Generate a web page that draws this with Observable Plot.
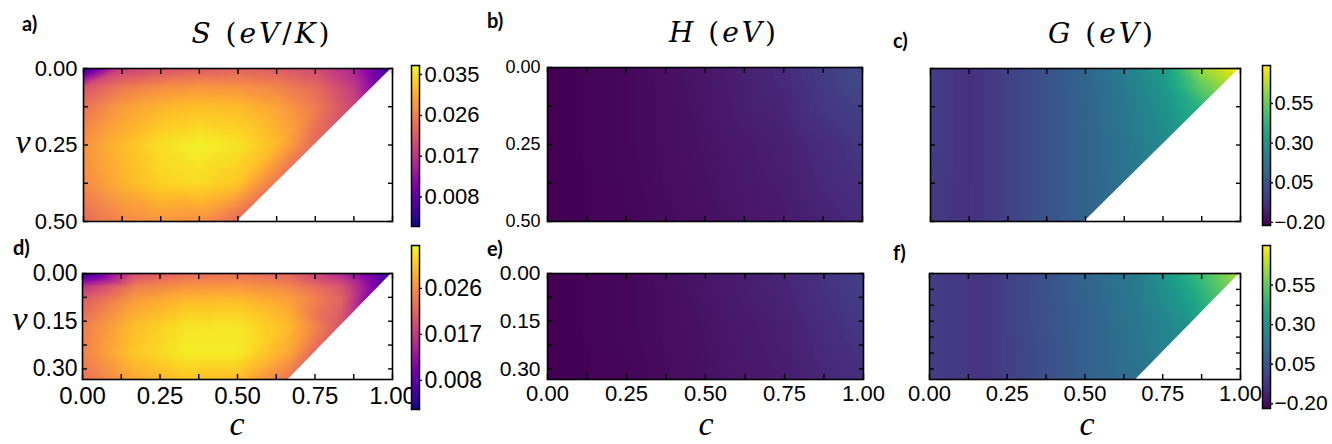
<!DOCTYPE html>
<html><head><meta charset="utf-8">
<script src="https://cdn.jsdelivr.net/npm/d3@7"></script>
<script src="https://cdn.jsdelivr.net/npm/@observablehq/plot@0.6"></script>
<style>
html,body{margin:0;padding:0;background:#fff;}
#root{position:relative;width:1332px;height:444px;overflow:hidden;background:#fff;}
</style></head><body><div id="root"></div>
<script>
// ---------- grids (sample positions) ----------
const cTop = [0, 0.125, 0.25, 0.375, 0.5, 0.625, 0.75, 0.875, 1];
const vTopS = [0, 0.0625, 0.125, 0.25, 0.375, 0.5];
const vTopG = [0, 0.0625, 0.125, 0.25, 0.375, 0.5];
const cBot = [0, 1/6, 1/3, 1/2, 2/3, 5/6, 1];
const vBotS = [0, 1/24, 1/12, 1/6, 1/4, 1/3];
const vBotG = [0, 1/12, 1/6, 1/4, 1/3];
const cH = [0, 0.25, 0.5, 0.75, 1];
const vHTop = [0, 0.25, 0.5];
const vHBot = [0, 1/6, 1/3];

// ---------- values (null = outside c+v<=1) ----------
const S_top = [
  [0.0033, 0.0185, 0.0205, 0.0221, 0.0228, 0.0221, 0.0200, 0.0150, 0.0033],
  [0.0210, 0.0252, 0.0274, 0.0283, 0.0280, 0.0266, 0.0237, 0.0178, null],
  [0.0245, 0.0288, 0.0312, 0.0322, 0.0318, 0.0296, 0.0256, 0.0193, null],
  [0.0281, 0.0317, 0.0349, 0.0363, 0.0352, 0.0317, 0.0235, null, null],
  [0.0271, 0.0310, 0.0338, 0.0345, 0.0327, 0.0249, null, null, null],
  [0.0237, 0.0268, 0.0283, 0.0276, 0.0233, null, null, null, null]
];
const S_bot = [
  [0.0039, 0.0190, 0.0224, 0.0230, 0.0218, 0.0151, 0.0039],
  [0.0165, 0.0240, 0.0264, 0.0267, 0.0250, 0.0200, null],
  [0.0210, 0.0270, 0.0295, 0.0298, 0.0275, 0.0216, null],
  [0.0241, 0.0299, 0.0328, 0.0331, 0.0296, 0.0200, null],
  [0.0248, 0.0305, 0.0334, 0.0334, 0.0280, null, null],
  [0.0228, 0.0280, 0.0305, 0.0296, 0.0232, null, null]
];
const H_top = [
  [-0.22, -0.20, -0.16, -0.10, 0.01],
  [-0.22, -0.20, -0.17, -0.13, -0.06],
  [-0.22, -0.205, -0.18, -0.15, -0.10]
];
const H_bot = [
  [-0.23, -0.21, -0.17, -0.12, -0.035],
  [-0.23, -0.21, -0.18, -0.14, -0.065],
  [-0.23, -0.215, -0.185, -0.15, -0.095]
];
const G_top = [
  [-0.038, -0.079, -0.028, 0.033, 0.110, 0.205, 0.335, 0.640, 0.79],
  [-0.038, -0.079, -0.028, 0.033, 0.105, 0.195, 0.310, 0.540, null],
  [-0.038, -0.079, -0.028, 0.033, 0.098, 0.180, 0.285, 0.440, null],
  [-0.038, -0.079, -0.028, 0.033, 0.093, 0.166, 0.250, null, null],
  [-0.048, -0.079, -0.028, 0.033, 0.093, 0.156, null, null, null],
  [-0.048, -0.079, -0.028, 0.033, 0.093, null, null, null, null]
];
const G_bot = [
  [-0.045, -0.075, 0.007, 0.092, 0.200, 0.420, 0.676],
  [-0.045, -0.075, 0.007, 0.089, 0.186, 0.350, null],
  [-0.045, -0.075, 0.007, 0.081, 0.174, 0.290, null],
  [-0.045, -0.075, -0.003, 0.079, 0.162, null, null],
  [-0.045, -0.075, -0.003, 0.079, 0.152, null, null]
];

// feasibility edge (c + v = 1)
const edgeTopC = [0.5, 1], edgeTopV = [0.5, 0];
const edgeBotC = [2/3, 1], edgeBotV = [1/3, 0];

// colour ranges
const S_top_dom = [0.0015, 0.037];
const S_bot_dom = [0.0023, 0.0344];
const G_top_dom = [-0.22, 0.79];
const G_bot_dom = [-0.23, 0.80];

// ticks
const xMinor = [0, 0.125, 0.25, 0.375, 0.5, 0.625, 0.75, 0.875, 1];
const xLabels = [0, 0.25, 0.5, 0.75, 1];
const yTopMinor = [0, 0.125, 0.25, 0.375, 0.5];
const yTopLabels = [0, 0.25, 0.5];
const yBotMinor = [0, 0.075, 0.15, 0.225, 0.3];
const yBotMinorF = [0, 0.05, 0.1, 0.15, 0.2, 0.25, 0.3];
const yBotLabels = [0, 0.15, 0.3];
const cbS_top = [0.008, 0.017, 0.026, 0.035];
const cbS_bot = [0.008, 0.017, 0.026];
const cbG = [-0.2, 0.05, 0.3, 0.55];

const root = document.getElementById("root");
const SANS = "'Liberation Sans', Arial, Helvetica, sans-serif";

function place(el, left, top) {
  el.style.position = "absolute";
  el.style.left = left + "px";
  el.style.top = top + "px";
  root.appendChild(el);
}

function panel(o) {
  const pts = [];
  o.vs.forEach((v, i) => o.cs.forEach((c, j) => {
    const z = o.vals[i][j];
    if (z != null) pts.push({c, v, z});
  }));
  const ml = 80, mr = 14, mt = 10, mb = 50;
  const marks = [
    Plot.raster(pts, {x: "c", y: "v", fill: "z", interpolate: "barycentric", x1: 0, x2: 1, y1: 0, y2: o.vmax})
  ];
  if (o.edgeC) {
    const edge = o.edgeC.map((c, i) => ({c, v: o.edgeV[i]}));
    marks.push(Plot.areaY(edge, {x: "c", y1: "v", y2: o.vmax, fill: "white", stroke: "white", strokeWidth: 1.2}));
  }
  const tk = {tickSize: -5, tickFormat: () => "", label: null, strokeWidth: 1.4};
  marks.push(
    Plot.axisX(xMinor, {anchor: "bottom", ...tk}),
    Plot.axisX(xMinor, {anchor: "top", ...tk}),
    Plot.axisY(o.yMinor, {anchor: "left", ...tk}),
    Plot.axisY(o.yMinor, {anchor: "right", ...tk})
  );
  if (o.yFont) marks.push(Plot.axisY(o.yLabels, {anchor: "left", tickSize: 0, tickPadding: o.yPad, tickFormat: d3.format(".2f"), fontSize: o.yFont, label: null}));
  if (o.xFont) marks.push(Plot.axisX(xLabels, {anchor: "bottom", tickSize: 0, tickPadding: o.xPad, tickFormat: d3.format(".2f"), fontSize: o.xFont, label: null}));
  marks.push(Plot.frame({stroke: "black", strokeWidth: 1.6}));
  const svg = Plot.plot({
    width: ml + o.fw + mr, height: mt + o.fh + mb,
    marginLeft: ml, marginRight: mr, marginTop: mt, marginBottom: mb,
    x: {domain: [0, 1]},
    y: {domain: [0, o.vmax], reverse: true},
    color: {type: "linear", scheme: o.scheme, domain: o.domain},
    style: {fontFamily: SANS, background: "transparent", overflow: "visible", color: "black"},
    marks
  });
  place(svg, o.fx - ml, o.fy - mt);
}

function colorbar(o) {
  const ml = 1, mr = 80, mt = 1, mb = 1;
  const svg = Plot.plot({
    width: ml + o.bw + mr, height: mt + o.bh + mb,
    marginLeft: ml, marginRight: mr, marginTop: mt, marginBottom: mb,
    x: {domain: [0, 1], axis: null},
    y: {domain: o.domain},
    color: {type: "linear", scheme: o.scheme, domain: o.domain},
    style: {fontFamily: SANS, background: "transparent", overflow: "visible", color: "black"},
    marks: [
      Plot.raster({x1: 0, x2: 1, y1: o.domain[0], y2: o.domain[1], fill: (x, y) => y}),
      Plot.axisY(o.ticks, {anchor: "right", tickSize: 2, tickPadding: o.pad, tickFormat: d3.format(o.fmt), fontSize: o.font, label: null, strokeWidth: 1.4}),
      Plot.frame({stroke: "black", strokeWidth: 1.5})
    ]
  });
  place(svg, o.bx - ml, o.by - mt);
}

// panels
panel({cs: cTop, vs: vTopS, vals: S_top, vmax: 0.5, scheme: "plasma", domain: S_top_dom,
  fx: 83, fy: 68, fw: 309, fh: 153, yMinor: yTopMinor, yLabels: yTopLabels, yFont: 22, yPad: 6,
  edgeC: edgeTopC, edgeV: edgeTopV});
panel({cs: cH, vs: vHTop, vals: H_top, vmax: 0.5, scheme: "viridis", domain: G_top_dom,
  fx: 547, fy: 67, fw: 315, fh: 154, yMinor: yTopMinor, yLabels: yTopLabels, yFont: 18, yPad: 7});
panel({cs: cTop, vs: vTopG, vals: G_top, vmax: 0.5, scheme: "viridis", domain: G_top_dom,
  fx: 930, fy: 68, fw: 310, fh: 153, yMinor: yTopMinor,
  edgeC: edgeTopC, edgeV: edgeTopV});
panel({cs: cBot, vs: vBotS, vals: S_bot, vmax: 1/3, scheme: "plasma", domain: S_bot_dom,
  fx: 82, fy: 273, fw: 310, fh: 106, yMinor: yBotMinor, yLabels: yBotLabels, yFont: 23, yPad: 5,
  xFont: 24, xPad: 7, edgeC: edgeBotC, edgeV: edgeBotV});
panel({cs: cH, vs: vHBot, vals: H_bot, vmax: 1/3, scheme: "viridis", domain: G_bot_dom,
  fx: 547, fy: 273, fw: 316, fh: 106, yMinor: yBotMinor, yLabels: yBotLabels, yFont: 21, yPad: 7,
  xFont: 22, xPad: 6});
panel({cs: cBot, vs: vBotG, vals: G_bot, vmax: 1/3, scheme: "viridis", domain: G_bot_dom,
  fx: 929, fy: 273, fw: 311, fh: 106, yMinor: yBotMinorF,
  xFont: 22, xPad: 6, edgeC: edgeBotC, edgeV: edgeBotV});

// colorbars
colorbar({domain: S_top_dom, scheme: "plasma", ticks: cbS_top, fmt: ".3f", bx: 411, by: 65, bw: 8, bh: 161, font: 22, pad: 3});
colorbar({domain: S_bot_dom, scheme: "plasma", ticks: cbS_bot, fmt: ".3f", bx: 411, by: 245, bw: 8, bh: 164, font: 23, pad: 3});
colorbar({domain: G_top_dom, scheme: "viridis", ticks: cbG, fmt: ".2f", bx: 1262, by: 65, bw: 8, bh: 160, font: 20, pad: 2});
colorbar({domain: G_bot_dom, scheme: "viridis", ticks: cbG, fmt: ".2f", bx: 1262, by: 245, bw: 8, bh: 163, font: 21, pad: 2});

// text overlay
const NS = "http://www.w3.org/2000/svg";
const ov = document.createElementNS(NS, "svg");
ov.setAttribute("width", 1332); ov.setAttribute("height", 444);
ov.style.position = "absolute"; ov.style.left = "0px"; ov.style.top = "0px";
root.appendChild(ov);
function txt(x, y, parts, attrs) {
  const t = document.createElementNS(NS, "text");
  t.setAttribute("x", x); t.setAttribute("y", y);
  for (const k in attrs) t.setAttribute(k, attrs[k]);
  parts.forEach(([s, it]) => {
    const sp = document.createElementNS(NS, "tspan");
    sp.textContent = s;
    if (it) sp.setAttribute("font-style", "italic");
    t.appendChild(sp);
  });
  ov.appendChild(t);
}
const serif = {"font-family": "'DejaVu Serif', 'Liberation Serif', serif", "font-size": 28, "text-anchor": "middle", "letter-spacing": 3};
txt(262, 43, [["S", 1], [" (", 0], ["eV", 1], ["/", 0], ["K", 1], [")", 0]], serif);
txt(724, 42, [["H", 1], [" (", 0], ["eV", 1], [")", 0]], serif);
txt(1102, 43, [["G", 1], [" (", 0], ["eV", 1], [")", 0]], serif);
const lab = {"font-family": "'Liberation Serif', 'DejaVu Serif', serif", "font-size": 34, "text-anchor": "middle"};
txt(23, 153, [["v", 1]], lab);
txt(20, 330, [["v", 1]], lab);
txt(237, 435, [["c", 1]], lab);
txt(706, 435, [["c", 1]], lab);
txt(1087, 435, [["c", 1]], lab);
const pl = {"font-family": "Lato, 'Open Sans', sans-serif", "font-size": 20, "font-weight": 700};
txt(22, 31, [["a)", 0]], pl);
txt(487, 28, [["b)", 0]], pl);
txt(893, 48, [["c)", 0]], pl);
txt(13, 255, [["d)", 0]], pl);
txt(487, 256, [["e)", 0]], pl);
txt(893, 260, [["f)", 0]], pl);
</script></body></html>
